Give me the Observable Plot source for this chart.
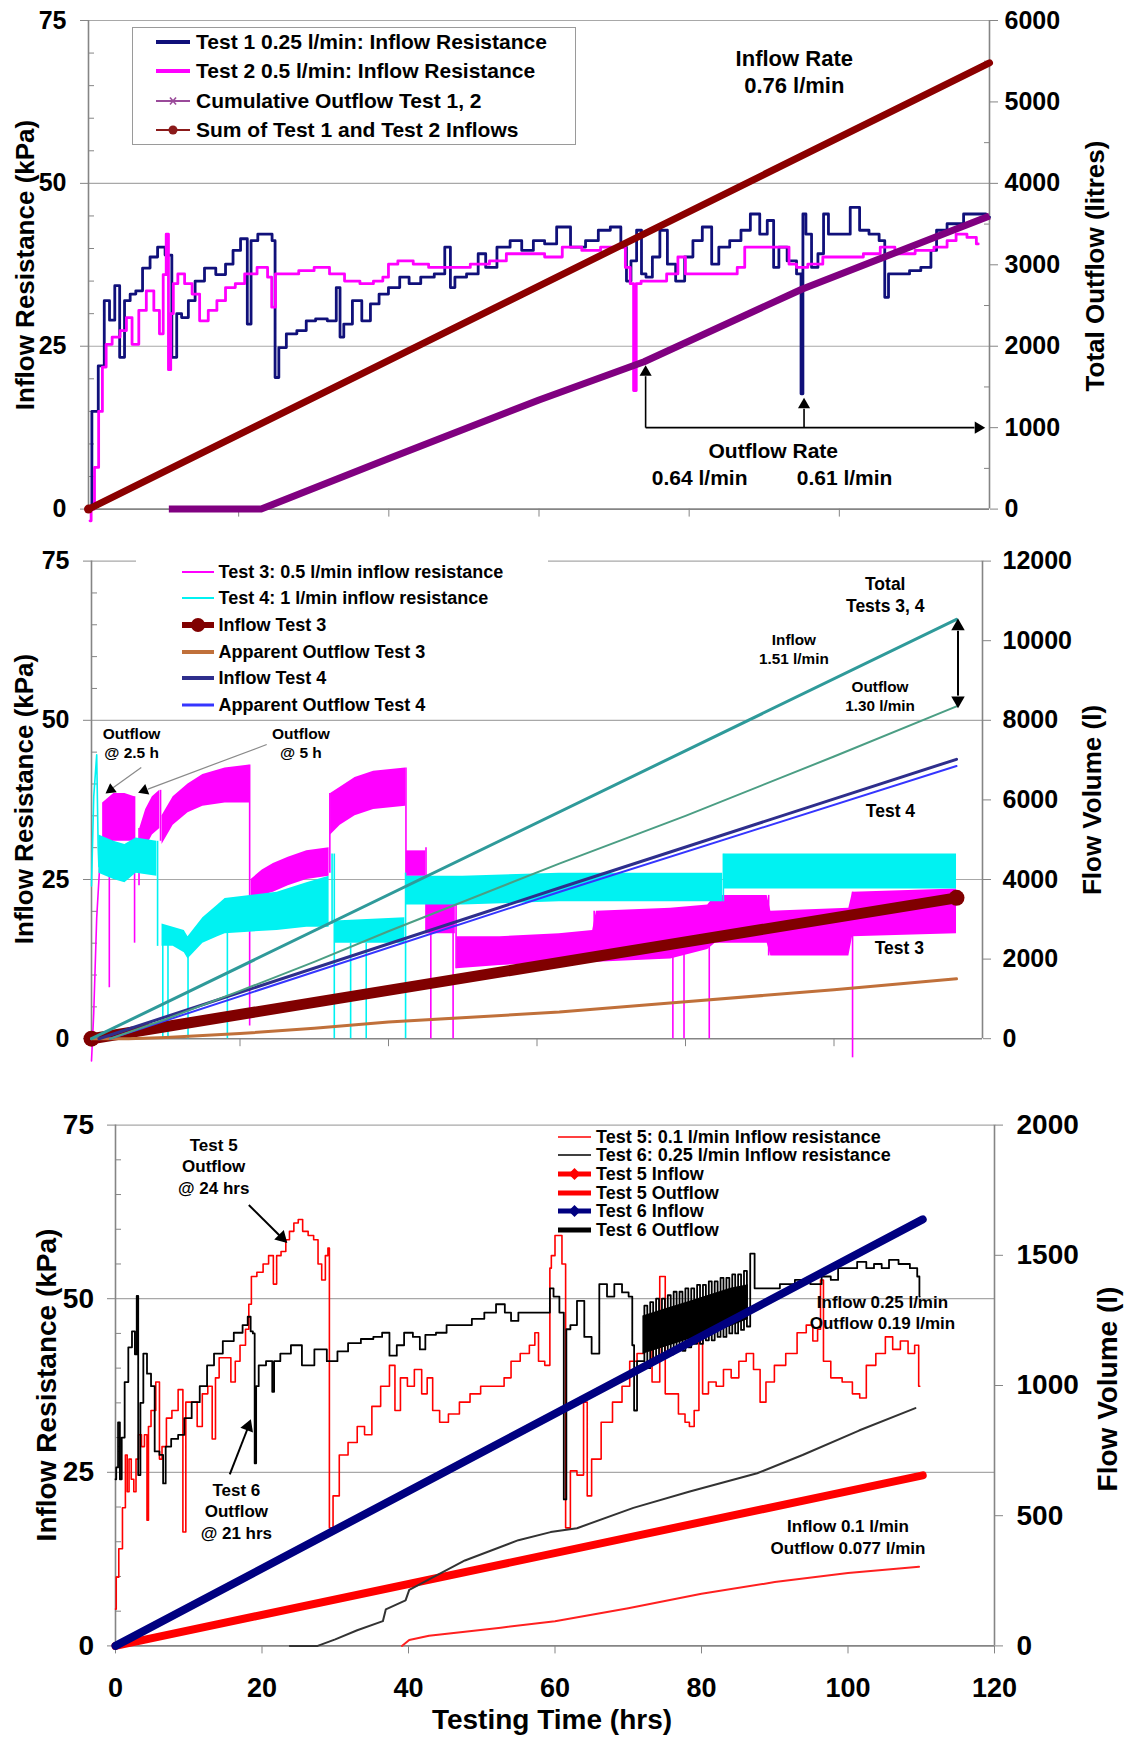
<!DOCTYPE html>
<html><head><meta charset="utf-8">
<script src="https://cdn.jsdelivr.net/npm/d3@7"></script>
<script src="https://cdn.jsdelivr.net/npm/@observablehq/plot@0.6"></script>
<style>
body{margin:0;background:#fff;}
#page{position:relative;width:1129px;height:1737px;background:#fff;font-family:'Liberation Sans',Arial,Helvetica,sans-serif;font-weight:bold;color:#000;overflow:hidden}
.title{position:absolute;white-space:nowrap;font-weight:bold;transform:translate(-50%,-50%)}
.vt{transform:translate(-50%,-50%) rotate(-90deg)}
.row{position:absolute;white-space:nowrap;display:flex;align-items:center}
.row svg{display:block}
</style></head><body><div id="page"></div>
<script>
// ---------------- shared axes ----------------
const hourDomain = [0, 120];
const hourTicks = [0, 20, 40, 60, 80, 100, 120];
const hourInnerTicks = [20, 40, 60, 80, 100];
const kpaTicks = [0, 25, 50, 75];
const kpaMinor = [5, 10, 15, 20, 30, 35, 40, 45, 55, 60, 65, 70];

// ---------------- panel 1: Tests 1 and 2 ----------------
const p1VolumeTicks = [0, 1000, 2000, 3000, 4000, 5000, 6000];
const p1VolumeMinor = [500, 1500, 2500, 3500, 4500, 5500];
const test1Resistance = [[0,0],[0.9,15],[1.7,22],[2.5,32],[3.1,29],[3.9,34.3],[4.4,23.3],[5.2,32],[5.9,33],[6.7,33.5],[7.7,37],[8.7,38.7],[9.7,40.2],[10.7,39],[11.5,23.3],[12,30],[12.8,29.4],[13.8,32],[14.6,35],[16.3,37],[17.6,36],[18.9,37.6],[19.6,39.7],[20.9,41.5],[21.4,28.4],[21.9,41.2],[23.2,42.2],[24.2,42.2],[24.7,41.2],[25,20.2],[25.7,24.8],[27,26.9],[28.5,27.4],[29.5,28.9],[31,29.2],[32.6,28.9],[33.4,34],[33.6,26.4],[34.4,28.4],[35.9,32],[36.9,28.9],[38.2,31.5],[39.2,33],[40.7,34],[42.2,35.6],[43.2,34.6],[45.3,35.6],[46.8,36.1],[48.1,40.2],[48.3,34],[49.3,35.6],[51.4,36.1],[52.4,39.2],[53.4,37.1],[55.4,40.2],[56.9,41.2],[58.5,39.7],[60,41.2],[61.5,40.7],[63.2,43.3],[65.2,40.2],[67.2,41.2],[68.6,42.8],[70.4,43.3],[71.4,40.2],[71.9,35],[72.6,38.1],[73.4,42.8],[73.9,36.1],[74.6,35.6],[75.6,38.7],[76.6,42.8],[77.6,37.6],[78.8,35],[80,38.7],[81,41.2],[82.5,43.3],[83.5,37.6],[84.4,40.2],[86.4,41.2],[87.4,42.8],[88.9,45.3],[89.9,42.2],[90.9,44.3],[91.6,37.1],[92.3,40.2],[93.8,38.1],[94.8,36.1],[95,17.7],[95.3,45.3],[95.8,42.2],[96.8,37.1],[97.5,39.2],[98.3,45.3],[98.8,42.2],[100.7,42.2],[102.2,46.3],[103.2,42.8],[104.7,42.2],[105.9,41.2],[106.2,32.5],[106.9,36.1],[108.6,36.1],[110.1,36.6],[111.6,37.1],[112.8,39.7],[113.1,42.8],[115.6,43.8],[117.5,45.3],[119,45.3],[120,44.8]];
const test2Resistance = [[0.2,-1.8],[0.5,0],[1.1,6.4],[1.6,15],[2.1,21.8],[2.6,25.3],[3.7,26.4],[4.7,27.4],[5.4,29.4],[6.2,25.3],[7.2,30.5],[8.2,33.5],[9.2,30.5],[9.7,26.9],[10.2,36],[10.5,42.2],[10.8,21.4],[11.1,30],[11.5,34.6],[12.3,36.1],[13.3,34.6],[14.3,33],[15.3,28.9],[16.6,30.5],[17.6,32],[18.9,34],[20.2,34.6],[21.4,36.1],[23.5,37.1],[24.2,35.6],[24.6,31],[25.2,36.1],[27,36.1],[29,36.6],[31.1,37.1],[33.1,36.1],[35.1,35],[37.2,34.6],[38.7,35],[39.7,35.6],[40.2,37.6],[42.2,38.1],[44.3,37.6],[46.3,37.1],[49.3,37.1],[52.4,37.6],[54.4,38.1],[56.9,39.2],[59.5,39.2],[62,38.7],[64.2,40.2],[67.2,39.7],[69.2,40.2],[71.1,40.2],[71.9,37.1],[72.4,34.6],[72.8,18.2],[73.1,34.6],[74.1,35],[76,35],[78,36.1],[79,38.7],[80,36.1],[83,36.1],[85.9,36.1],[86.9,37.1],[87.9,40.2],[90.9,40.2],[92.8,40.2],[93.8,37.6],[94.8,37.1],[96.8,37.6],[98.8,38.7],[101.7,38.7],[104.7,39.2],[106.2,40.2],[108.6,39.2],[111.6,39.7],[113.6,40.2],[115.1,41.2],[116,42.2],[118,41.7],[118.5,40.7]];
const cumulativeOutflow12 = [[10.7,0],[23,0],[40,620],[60,1340],[74,1810],[95,2700],[120,3600]];
const sumInflow12 = [[0,0],[120,5480]];
const p1Legend = ["Test 1 0.25 l/min: Inflow Resistance","Test 2 0.5 l/min: Inflow Resistance","Cumulative Outflow Test 1, 2","Sum of Test 1 and Test 2 Inflows"];

// ---------------- panel 2: Tests 3 and 4 ----------------
const p2VolumeTicks = [0, 2000, 4000, 6000, 8000, 10000, 12000];
// [segment, hours, low, high] envelopes of the dense resistance traces
const test3Band = [[1,1.5,30,37],[1,3,31,38.5],[1,4.5,31,38.5],[1,5.8,31,38],[2,6.5,27,33],[2,7.3,30,36],[2,8.2,32,38],[2,9.2,33,39],[3,9.5,30.5,35],[3,11,33.5,38],[3,13,35.5,40],[3,15,36.5,41.5],[3,18,37,42.5],[3,21.3,37,43],[4,21.5,22,25],[4,23,22.5,26.5],[4,24.5,23,27.5],[4,26.5,24,28.5],[4,29,25,29.5],[4,32,25.5,30],[5,32.2,32,38.5],[5,33.5,33.5,39.5],[5,35.5,35,41],[5,38,36,42],[5,42.3,36.5,42.5],[6,42.4,25.5,29.5],[6,45,25.5,29.5],[7,45.1,16.5,21.5],[7,49,16.5,21.5],[8,49.2,11,16],[8,55,11.5,16],[8,63,12,16.5],[8,67.5,12.5,17],[8,68,12,20],[8,78,12.5,20.5],[8,83,14,21],[8,84,15,22.5],[8,91,15,22.5],[8,91.5,13,20],[8,102,13,20.5],[8,102.5,16,23],[8,116.5,16.5,23.5]];
const test3Start = [[0,-3.5],[0.3,4],[0.7,19],[1.1,27],[1.5,30]];
// [hours, from, to] vertical excursions
const test3Spikes = [[2.4,8,34],[5.8,15,38],[6.4,24,33],[9.3,31,39],[21.3,2,43],[32.1,26,38.5],[42.35,25,42.5],[45.05,16.5,30],[45.7,0,22],[48.7,0,22],[49.1,11,22],[67.7,12,20],[78.3,0,15],[79.8,0,15],[83.2,0,21],[91.2,13,22.5],[102.5,-3,23]];
const test4Band = [[1,1,26,32],[1,3,25,31],[1,4.5,24.5,30.5],[1,6,26,31.5],[1,8.8,25.5,31],[2,9.5,14.5,18],[2,11,14.5,17.5],[2,12.5,13.5,17],[2,13,12.5,16],[2,15,15,19],[2,17,16,21],[2,18,16.5,22],[2,25,17,23],[2,29,17.5,24.5],[2,32,17.5,25.5],[3,32.8,15,18.5],[3,42.2,15,19],[4,42.4,21,25.5],[4,50,21,25.5],[4,63,21.5,26],[4,85,21.5,26],[5,85.2,23.5,29],[5,116.5,23.5,29]];
const test4Start = [[0,24],[0.3,38],[0.7,44.6],[0.9,30],[1,27]];
const test4Spikes = [[8.9,14.5,31],[9.6,0,17],[10.3,0,16],[13,0,14],[18.3,0,17],[32.4,18,29],[32.7,0,29],[34.9,0,15],[37,0,15],[42.3,0,26],[85.1,21.5,29]];
const totalInflow34 = [[0,0],[116.5,10535]];
const totalOutflow34 = [[2.5,0],[10,490],[20,1200],[30,1930],[40,2700],[63,4400],[80,5600],[100,7090],[116.5,8350]];
const inflowTest3 = [[0,0],[116.5,3540]];
const outflowTest3 = [[0,0],[5,0],[10,30],[20,130],[30,260],[40,420],[63,670],[80,930],[100,1230],[116.5,1505]];
const inflowTest4 = [[1,0],[63.2,3800],[116.5,7020]];
const outflowTest4 = [[2.5,0],[63.2,3700],[116.5,6850]];
const p2Legend = ["Test 3: 0.5 l/min inflow resistance","Test 4: 1 l/min inflow resistance","Inflow Test 3","Apparent Outflow Test 3","Inflow Test 4","Apparent Outflow Test 4"];

// ---------------- panel 3: Tests 5 and 6 ----------------
const p3VolumeTicks = [0, 500, 1000, 1500, 2000];
const test5Resistance = [[0,5.3],[0.2,9.9],[0.7,14],[1.2,19.9],[1.5,27.5],[1.7,22.2],[2,26.9],[2.3,24],[2.7,22.2],[2.9,26.9],[3.4,30.4],[3.7,28.7],[4.2,30.4],[4.4,18.1],[4.6,31.6],[5.1,33.9],[5.9,38],[6.1,26.9],[6.6,28.7],[7.3,32.8],[8.1,33.9],[9,36.9],[9.4,16.4],[9.8,35.1],[10.8,35.1],[11.5,31.6],[12.2,36.3],[13,37.4],[13.4,29.8],[13.9,38.6],[14.4,41.5],[15.4,41.5],[16.1,38],[16.6,41],[17.4,43.3],[18.1,45.6],[18.3,49.2],[18.8,53.2],[19.8,53.8],[20.5,55],[21.3,56.2],[21.8,52.1],[22.2,56.2],[23,56.8],[23.5,58.5],[24,59.7],[24.7,60.9],[25.2,61.4],[25.9,59.7],[26.7,59.1],[27.4,58.5],[27.9,55],[28.4,52.7],[28.9,56.2],[29.1,57.3],[29.3,17],[30.1,21.6],[31,27.5],[32.5,29.3],[33.5,31.6],[34.5,30.4],[35.5,34.5],[36.9,37.4],[37.9,40.4],[38.4,33.9],[39.4,38.6],[40.3,37.4],[41.3,39.8],[42.3,36.3],[42.8,38.6],[43.8,33.9],[44.7,32.2],[46.2,33.4],[47.7,35.1],[49.1,36.3],[50.6,37.4],[52.6,37.4],[53.5,38.6],[54.5,41],[56,42.1],[57,43.3],[57.5,45.1],[58,41],[59.2,40.4],[59.4,54.4],[59.6,56.2],[60.4,59.1],[60.7,59.1],[61.2,55],[61.7,17],[62.5,25.2],[63.5,24.6],[64.3,35.1],[64.5,21.6],[65.5,26.9],[67.1,32.2],[68.6,35.1],[69.7,37.4],[70.7,41],[71.7,42.1],[72.7,43.3],[73.8,38],[74.8,53.2],[75.3,36.3],[76.3,36.3],[77.4,33.4],[78.1,32.2],[78.6,31.6],[79.4,33.9],[79.9,45.6],[80.4,36.3],[81.5,38],[82.5,37.4],[83.5,39.8],[84.6,38.6],[85.6,41],[86.6,42.1],[87.6,39.8],[88.4,35.1],[89.2,38],[90.7,40.4],[92.3,42.1],[93.8,45.1],[94.8,46.2],[95.6,43.9],[96.1,45.6],[96.4,52.7],[96.9,41],[98.4,38.6],[100,38],[101.2,36.3],[102,35.7],[103,40.4],[104.6,42.1],[105.6,44.5],[106.6,42.7],[107.7,43.9],[108.7,42.1],[109.5,43.3],[109.8,37.4]];
const test6Resistance = [[0,24],[0.2,25.7],[0.5,32.2],[0.7,24],[1,30],[1.5,38],[2,43],[2.5,45.3],[2.8,42],[3,50.4],[3.2,24.6],[3.6,35],[4,42.1],[4.6,39.2],[5.1,37.4],[5.6,28],[6.4,27.5],[6.6,23.4],[7.1,28.7],[8.1,29.8],[9,30.4],[9.8,32.8],[11,35.1],[12,37.4],[13,40.4],[13.9,42.1],[15.4,43.9],[16.9,45.1],[17.8,46.2],[18.3,47.4],[18.6,45.3],[18.9,45],[19.1,26.3],[19.3,37.4],[19.8,40.4],[21.3,41],[21.5,36.6],[21.8,41],[23.2,42.1],[24.7,43.3],[26.2,40.4],[28.1,42.7],[29.6,41],[31,42.4],[32.5,43.6],[34.5,44.2],[35.9,44.5],[36.9,45.1],[37.9,41.8],[38.9,43.3],[39.9,45.1],[41.3,44.5],[41.8,42.7],[42.8,44.8],[44.7,45.1],[45.7,46.2],[47.7,46.2],[49.6,47.1],[51.1,48],[52.8,49.2],[53.5,48],[54.5,46.8],[55.5,48],[57.5,48],[59.2,48],[59.4,51.5],[60.2,50.3],[61,48],[61.4,21.1],[61.7,45.6],[62.5,46.2],[63.5,49.7],[64.5,44.5],[65.5,42.1],[66.6,52.1],[67.6,50.3],[68.6,52.1],[69.7,50.9],[70.4,50.3],[70.7,43.3],[70.9,33.9],[71.5,41],[72,41],[72.4,49],[72.8,40],[73.2,49.5],[73.6,41],[74,50],[74.4,41.5],[74.8,50],[75.2,42],[75.6,50.5],[76,42],[76.4,51],[76.8,42.5],[77.2,51],[77.6,42.5],[78,51.5],[78.4,43],[78.8,51.5],[79.2,43.5],[79.6,52],[80,43.5],[80.4,52],[80.8,44],[81.2,52.5],[81.6,44],[82,52.5],[82.4,44.5],[82.8,53],[83.2,44.5],[83.6,53],[84,45],[84.4,53.5],[84.8,45],[85.2,53.5],[85.6,45.5],[86,54],[86.4,46],[86.9,56.5],[87.6,51.5],[89.7,51.5],[91.7,52.1],[93.8,52.7],[95.9,52.1],[96.9,53.2],[98.4,52.7],[98.9,54.4],[100.5,54.4],[102,55.3],[103,54.4],[104.1,55],[105.1,54.4],[106.1,55.6],[107.7,55],[109.2,54.4],[109.7,53.2],[109.8,50.3]];
// [hours, low, high] core of the dense Test 6 trace
const test6Band = [[72,42,47.5],[75,43,48.5],[78,44,49.5],[81,45,50.5],[84,46,51.5],[86.4,47,52]];
const inflowTest5 = [[0,0],[110.2,655]];
const outflowTest5 = [[39.1,0],[40.1,23],[42.8,39],[52.6,70],[60,95],[70,145],[80,200],[90,245],[100,280],[109.7,304]];
const inflowTest6 = [[0,0],[110.2,1638]];
const outflowTest6 = [[23.8,0],[27.6,0],[30,25],[33,60],[36.5,95],[36.9,140],[39.6,175],[40.1,215],[47.7,328],[55,406],[59.4,437],[63,452],[70.7,530],[78.4,593],[87.6,663],[93.8,733],[101.5,827],[109.2,913]];
const p3Legend = ["Test 5: 0.1 l/min Inflow resistance","Test 6: 0.25 l/min Inflow resistance","Test 5 Inflow","Test 5 Outflow","Test 6 Inflow","Test 6 Outflow"];

// ---------------- rendering ----------------
const W = 1129;
const FONT = "'Liberation Sans', Arial, Helvetica, sans-serif";
const AXIS = "#858585", GRID = "#a8a8a8";
const page = document.getElementById("page");
const B = {fontWeight: "bold", fill: "#000"};
const plain = d => String(d);

function place(el, top) {
  el.style.position = "absolute"; el.style.left = "0px"; el.style.top = top + "px";
  page.appendChild(el);
}

function panel(cfg) {
  const common = {width: W, height: cfg.height, marginTop: cfg.mt, marginBottom: cfg.mb,
    marginLeft: cfg.ml, marginRight: cfg.mr,
    style: {background: "transparent", fontFamily: FONT, overflow: "visible"}};
  const xAxis = cfg.xLabels
    ? Plot.axisX({ticks: hourTicks, tickSize: 8, tickPadding: 24, fontSize: 27, fontWeight: "bold", stroke: AXIS, label: null, tickFormat: plain})
    : Plot.axisX({ticks: hourInnerTicks, tickSize: 8, fill: "none", stroke: AXIS, label: null});
  const left = Plot.plot({...common, x: {domain: hourDomain}, y: {domain: [0, 75]}, marks: [
    Plot.ruleY([25, 50, 75], {stroke: GRID, strokeWidth: 1.2}),
    Plot.ruleY([0], {stroke: AXIS, strokeWidth: 1.6}),
    Plot.ruleX([0, 120], {stroke: AXIS, strokeWidth: 1.6}),
    Plot.axisY({ticks: kpaTicks, tickSize: 8, tickPadding: cfg.lpad, fontSize: cfg.tf, fontWeight: "bold", stroke: AXIS, label: null, tickFormat: plain}),
    Plot.axisY({ticks: kpaMinor, tickSize: -6, fill: "none", stroke: AXIS, label: null}),
    xAxis,
    ...cfg.leftMarks]});
  const right = Plot.plot({...common, x: {domain: hourDomain, axis: null}, y: {domain: [0, cfg.vmax]}, marks: [
    Plot.axisY({anchor: "right", ticks: cfg.vticks, tickSize: 8, tickPadding: cfg.rpad, fontSize: cfg.tf, fontWeight: "bold", stroke: AXIS, label: null, tickFormat: plain}),
    ...(cfg.vminor ? [Plot.axisY({anchor: "right", ticks: cfg.vminor, tickSize: -6, fill: "none", stroke: AXIS, label: null})] : []),
    ...cfg.rightMarks]});
  place(left, cfg.top);
  place(right, cfg.top);
}

function txt(x, y, t, size, extra = {}) {
  return Plot.text([{x, y, t}], {x: "x", y: "y", text: "t", fontSize: size, lineHeight: 1.25, ...B, ...extra});
}
function head(x, y, rotate, r = 4.5, fill = "#000") {
  return Plot.dot([{x, y}], {x: "x", y: "y", symbol: "triangle", r, fill, stroke: "none", rotate});
}
function shaft(x1, y1, x2, y2, stroke = "#000", strokeWidth = 1.6) {
  return Plot.link([{x1, y1, x2, y2}], {x1: "x1", y1: "y1", x2: "x2", y2: "y2", stroke, strokeWidth});
}
const rows = () => ({x: d => d[1], y1: d => d[2], y2: d => d[3], z: d => d[0]});

// Panel 1
panel({top: 0, height: 540, mt: 20, mb: 31.4, ml: 88, mr: 140, lpad: 14, rpad: 7, tf: 25,
  vmax: 6000, vticks: p1VolumeTicks, vminor: p1VolumeMinor, xLabels: false,
  leftMarks: [
    Plot.line(test1Resistance, {stroke: "#10107a", strokeWidth: 2.8, curve: "step"}),
    Plot.line(test2Resistance, {stroke: "#ff00ff", strokeWidth: 2.8, curve: "step"}),
    txt(94, 67.3, "Inflow Rate\n0.76 l/min", 22),
    txt(91.2, 9.1, "Outflow Rate", 21),
    txt(81.4, 5.0, "0.64 l/min", 21),
    txt(100.7, 5.0, "0.61 l/min", 21),
    shaft(74.2, 12.5, 74.2, 20.4), head(74.2, 21.0, 0),
    shaft(74.2, 12.5, 118.0, 12.5), head(118.5, 12.5, 90),
    shaft(95.3, 12.5, 95.3, 15.4), head(95.3, 16.0, 0)
  ],
  rightMarks: [
    Plot.line(cumulativeOutflow12, {stroke: "#800080", strokeWidth: 7, strokeLinecap: "butt"}),
    Plot.line(sumInflow12, {stroke: "#8b0000", strokeWidth: 7, strokeLinecap: "round"}),
    Plot.dot(sumInflow12.slice(0, 1), {r: 4.5, fill: "#8b0000"})
  ]});

// Panel 2
panel({top: 540, height: 540, mt: 20.6, mb: 41.8, ml: 91, mr: 147, lpad: 14, rpad: 12, tf: 25,
  vmax: 12000, vticks: p2VolumeTicks, xLabels: false,
  leftMarks: [
    Plot.areaY(test3Band, {...rows(), fill: "#ff00ff"}),
    Plot.ruleX(test3Spikes, {x: d => d[0], y1: d => d[1], y2: d => d[2], stroke: "#ff00ff", strokeWidth: 1.6}),
    Plot.line(test3Start, {stroke: "#ff00ff", strokeWidth: 1.6}),
    Plot.areaY(test4Band, {...rows(), fill: "#00f2f2"}),
    Plot.ruleX(test4Spikes, {x: d => d[0], y1: d => d[1], y2: d => d[2], stroke: "#00f2f2", strokeWidth: 1.6}),
    Plot.line(test4Start, {stroke: "#00f2f2", strokeWidth: 1.6}),
    txt(5.4, 46.5, "Outflow\n@ 2.5 h", 15.5),
    txt(28.2, 46.5, "Outflow\n@ 5 h", 15.5),
    shaft(6.7, 42.6, 2.9, 39.4, "#8a8a8a", 1.2), head(2.6, 39.1, -126, 4.2),
    shaft(23.6, 46.2, 7.6, 39.2, "#8a8a8a", 1.2), head(7.1, 39.0, -111, 4.2),
    txt(106.9, 69.85, "Total\nTests 3, 4", 17.5),
    txt(94.6, 61.3, "Inflow\n1.51 l/min", 15.3),
    txt(106.2, 53.9, "Outflow\n1.30 l/min", 15.3),
    txt(107.6, 35.9, "Test 4", 17.5),
    txt(108.8, 14.4, "Test 3", 17.5)
  ],
  rightMarks: [
    Plot.line(inflowTest3, {stroke: "#800000", strokeWidth: 11, strokeLinecap: "round"}),
    Plot.dot(inflowTest3, {r: 8, fill: "#800000"}),
    Plot.line(outflowTest3, {stroke: "#c0703a", strokeWidth: 3}),
    Plot.line(inflowTest4, {stroke: "#2e2e8c", strokeWidth: 3}),
    Plot.line(outflowTest4, {stroke: "#3535ff", strokeWidth: 2}),
    Plot.line(totalInflow34, {stroke: "#2f9a9a", strokeWidth: 3}),
    Plot.line(totalOutflow34, {stroke: "#4b9e84", strokeWidth: 2}),
    shaft(116.7, 10250, 116.7, 8620, "#000", 2),
    head(116.7, 10360, 0, 5), head(116.7, 8500, 180, 5)
  ]});

// Panel 3
panel({top: 1080, height: 657, mt: 44.6, mb: 91.6, ml: 115, mr: 135, lpad: 13.5, rpad: 14, tf: 28,
  vmax: 2000, vticks: p3VolumeTicks, xLabels: true,
  leftMarks: [
    Plot.line(test5Resistance, {stroke: "#ff0000", strokeWidth: 1.6, curve: "step"}),
    Plot.areaY(test6Band, {x: d => d[0], y1: d => d[1], y2: d => d[2], fill: "#000"}),
    Plot.line(test6Resistance, {stroke: "#000", strokeWidth: 1.8, curve: "step"}),
    txt(13.4, 69.2, "Test 5\nOutflow\n@ 24 hrs", 17, {lineHeight: 1.27}),
    shaft(18.2, 63.5, 22.5, 59.0, "#000", 2), head(22.7, 58.8, 135, 5),
    txt(16.5, 19.5, "Test 6\nOutflow\n@ 21 hrs", 17, {lineHeight: 1.27}),
    shaft(15.6, 24.7, 18.0, 31.2, "#000", 2), head(18.1, 31.6, 21, 5),
    txt(104.7, 48.1, "Inflow 0.25 l/min\nOutflow 0.19 l/min", 17),
    txt(100, 15.8, "Inflow 0.1 l/min\nOutflow 0.077 l/min", 17)
  ],
  rightMarks: [
    Plot.line(inflowTest5, {stroke: "#ff0000", strokeWidth: 8, strokeLinecap: "round"}),
    Plot.line(outflowTest5, {stroke: "#ff2020", strokeWidth: 2}),
    Plot.line(inflowTest6, {stroke: "#000080", strokeWidth: 8, strokeLinecap: "round"}),
    Plot.line(outflowTest6, {stroke: "#333", strokeWidth: 2})
  ]});

// ---------------- titles ----------------
function title(text, x, y, size, vertical) {
  const d = document.createElement("div");
  d.className = "title" + (vertical ? " vt" : "");
  d.textContent = text;
  d.style.left = x + "px"; d.style.top = y + "px"; d.style.fontSize = size + "px";
  page.appendChild(d);
}
title("Inflow Resistance (kPa)", 25, 265, 26, true);
title("Total Outflow (litres)", 1095, 266, 26, true);
title("Inflow Resistance (kPa)", 24, 799, 26, true);
title("Flow Volume (l)", 1092, 800, 26, true);
title("Inflow Resistance (kPa)", 47, 1385, 28, true);
title("Flow Volume (l)", 1108, 1389, 28, true);
title("Testing Time (hrs)", 552, 1720, 28, false);

// ---------------- legends ----------------
function swatch(w, h, color, sw, marker) {
  let m = "";
  const cx = w / 2, cy = h / 2;
  if (marker === "circle") m = `<circle cx="${cx}" cy="${cy}" r="${sw > 4 ? 7 : 4.5}" fill="${color}"/>`;
  if (marker === "diamond") m = `<path d="M${cx},${cy-6}L${cx+6},${cy}L${cx},${cy+6}L${cx-6},${cy}Z" fill="${color}"/>`;
  if (marker === "star") m = `<g stroke="${color}" stroke-width="1.6"><line x1="${cx-4}" y1="${cy}" x2="${cx+4}" y2="${cy}"/><line x1="${cx-3}" y1="${cy-3.5}" x2="${cx+3}" y2="${cy+3.5}"/><line x1="${cx-3}" y1="${cy+3.5}" x2="${cx+3}" y2="${cy-3.5}"/></g>`;
  return `<svg width="${w}" height="${h}"><line x1="0" y1="${cy}" x2="${w}" y2="${cy}" stroke="${color}" stroke-width="${sw}"/>${m}</svg>`;
}
function legend(labels, styles, {y0, dy, swX, swW, textX, size}) {
  labels.forEach((label, i) => {
    const r = document.createElement("div");
    r.className = "row";
    const h = 24;
    r.style.left = swX + "px"; r.style.top = (y0 + i * dy - h / 2) + "px"; r.style.height = h + "px";
    r.style.fontSize = size + "px";
    const [color, sw, marker] = styles[i];
    r.innerHTML = swatch(swW, h, color, sw, marker) + `<span style="margin-left:${textX - swX - swW}px;line-height:${h}px">${label}</span>`;
    page.appendChild(r);
  });
}
// panel 1 legend box
const box = document.createElement("div");
Object.assign(box.style, {position: "absolute", left: "132px", top: "27px", width: "444px", height: "118px", border: "1.5px solid #9a9a9a", background: "#fff", boxSizing: "border-box"});
page.appendChild(box);
legend(p1Legend, [["#10107a", 4], ["#ff00ff", 4], ["#9a4a9a", 2, "star"], ["#8b1a1a", 2, "circle"]],
  {y0: 41.7, dy: 29.4, swX: 156, swW: 34, textX: 196, size: 21});
// panel 2 legend (white patch hides the top border, as in the original)
const patch = document.createElement("div");
Object.assign(patch.style, {position: "absolute", left: "136px", top: "555px", width: "412px", height: "162px", background: "#fff"});
page.appendChild(patch);
legend(p2Legend, [["#ff00ff", 2], ["#00f2f2", 2], ["#800000", 6, "circle"], ["#c0703a", 4], ["#2e2e8c", 4], ["#3535ff", 3]],
  {y0: 571.7, dy: 26.65, swX: 182, swW: 32, textX: 218.5, size: 18});
legend(p3Legend, [["#ff0000", 1.5], ["#000", 1.5], ["#ff0000", 5, "diamond"], ["#ff0000", 5], ["#000080", 5, "diamond"], ["#000", 5]],
  {y0: 1136.6, dy: 18.7, swX: 558, swW: 33, textX: 596, size: 18});
</script></body></html>
